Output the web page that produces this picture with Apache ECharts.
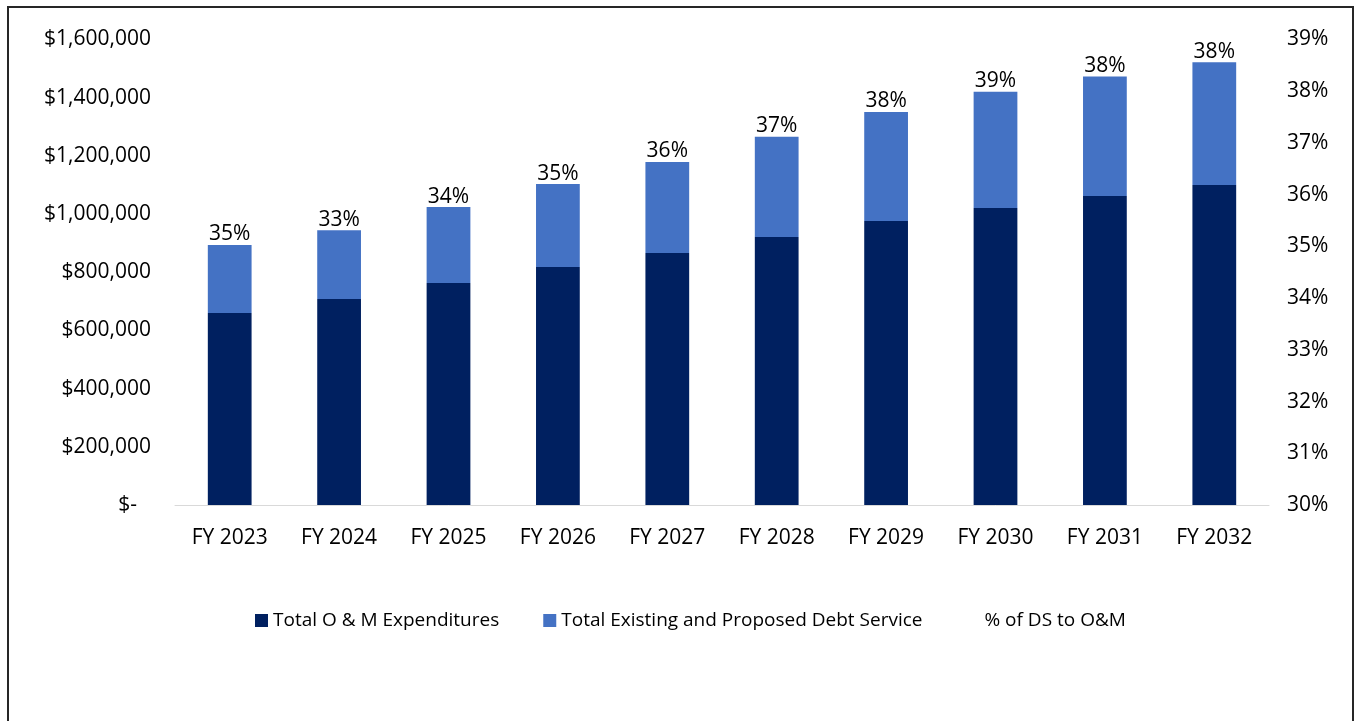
<!DOCTYPE html>
<html lang="en">
<head>
    <meta charset="UTF-8" />
    <title>O&amp;M and Debt Service</title>
    <script src="https://cdn.jsdelivr.net/npm/echarts@6/dist/echarts.min.js"></script>
    <style>
        body { margin: 0; background: #fff; }
        #main { width: 1356px; height: 721px; position: absolute; left: 0; top: 0; }
        #frame { position: absolute; left: 7px; top: 6px; width: 1343px; height: 740px;
                 border: 2px solid #262626; pointer-events: none; }
    </style>
</head>
<body>
<div id="main"></div>
<div id="frame"></div>
<script type="text/javascript">
    // data
    var years = ['FY 2023', 'FY 2024', 'FY 2025', 'FY 2026', 'FY 2027', 'FY 2028', 'FY 2029', 'FY 2030', 'FY 2031', 'FY 2032'];
    var omExpenditures = [660000, 708000, 763000, 818000, 866000, 921000, 976000, 1021000, 1062000, 1100000];
    var debtService = [234000, 236000, 261000, 285000, 313000, 345000, 375000, 399000, 411000, 422000];
    var pctDsToOm = [35, 33, 34, 35, 36, 37, 38, 39, 38, 38];

    var font = 'Open Sans';
    var myChart = echarts.init(document.getElementById('main'));

    var option = {
        animation: false,
        textStyle: { fontFamily: font },
        legend: {
            left: 250,
            top: 606,
            itemWidth: 13,
            itemHeight: 13,
            itemGap: 44,
            textStyle: { fontFamily: font, fontSize: 19, color: '#000' },
            data: [
                { name: 'Total O & M Expenditures', icon: 'rect' },
                { name: 'Total Existing and Proposed Debt Service', icon: 'rect' },
                { name: '% of DS to O&M', icon: 'rect', itemStyle: { opacity: 0 } }
            ]
        },
        grid: { left: 175, right: 87, top: 39.5, bottom: 216 },
        xAxis: {
            type: 'category',
            data: years,
            axisLine: { lineStyle: { color: '#D9D9D9', width: 1 } },
            axisTick: { show: false },
            axisLabel: { color: '#000', fontSize: 21, fontFamily: font, margin: 23 }
        },
        yAxis: [
            {
                type: 'value',
                min: 0,
                max: 1600000,
                interval: 200000,
                splitLine: { show: false },
                axisLine: { show: false },
                axisTick: { show: false },
                axisLabel: {
                    color: '#000', fontSize: 21, fontFamily: font, margin: 24,
                    formatter: function (v) {
                        if (v === 0) return '{z|$-}';
                        return '$' + v.toLocaleString('en-US');
                    },
                    rich: { z: { color: '#000', fontSize: 21, fontFamily: font, padding: [0, 14, 0, 0] } }
                }
            },
            {
                type: 'value',
                min: 30,
                max: 39,
                interval: 1,
                position: 'right',
                splitLine: { show: false },
                axisLine: { show: false },
                axisTick: { show: false },
                axisLabel: { color: '#000', fontSize: 21, fontFamily: font, margin: 18, formatter: '{value}%' }
            }
        ],
        series: [
            {
                name: 'Total O & M Expenditures',
                type: 'bar',
                stack: 'total',
                barWidth: '40%',
                itemStyle: { color: '#002060' },
                data: omExpenditures
            },
            {
                name: 'Total Existing and Proposed Debt Service',
                type: 'bar',
                stack: 'total',
                barWidth: '40%',
                itemStyle: { color: '#4472C4' },
                label: {
                    show: true,
                    position: 'top',
                    distance: 0,
                    color: '#000',
                    fontSize: 21,
                    fontFamily: font,
                    formatter: function (p) { return pctDsToOm[p.dataIndex] + '%'; }
                },
                data: debtService
            },
            {
                name: '% of DS to O&M',
                type: 'line',
                yAxisIndex: 1,
                symbol: 'none',
                lineStyle: { opacity: 0 },
                itemStyle: { opacity: 0 },
                data: pctDsToOm
            }
        ]
    };
    myChart.setOption(option);
</script>
</body>
</html>
